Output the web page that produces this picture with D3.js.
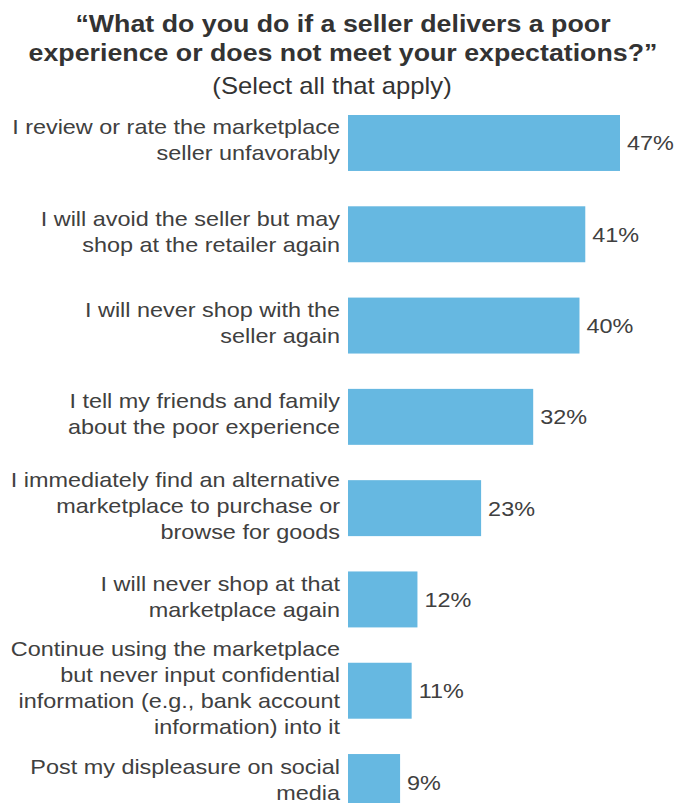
<!DOCTYPE html>
<html>
<head>
<meta charset="utf-8">
<script src="https://cdn.jsdelivr.net/npm/d3@7"></script>
<style>
  body { margin: 0; background: #fff; }
  svg text { font-family: "Liberation Sans", Arial, sans-serif; }
</style>
</head>
<body>
<svg id="chart" width="686" height="803"></svg>
<script>
// answers, each split into the lines shown on the chart
var categories = [
  ["I review or rate the marketplace", "seller unfavorably"],
  ["I will avoid the seller but may", "shop at the retailer again"],
  ["I will never shop with the", "seller again"],
  ["I tell my friends and family", "about the poor experience"],
  ["I immediately find an alternative", "marketplace to purchase or", "browse for goods"],
  ["I will never shop at that", "marketplace again"],
  ["Continue using the marketplace", "but never input confidential", "information (e.g., bank account", "information) into it"],
  ["Post my displeasure on social", "media"]
];
var values = [47, 41, 40, 32, 23, 12, 11, 9];
var titleLines = ["\u201cWhat do you do if a seller delivers a poor", "experience or does not meet your expectations?\u201d"];
var subtitle = "(Select all that apply)";

var svg = d3.select("#chart");
var ids = d3.range(values.length);
var sx = 1.115; // the original text is a bit wide

var x = d3.scaleLinear().domain([0, 47]).range([348, 620]);
var y = d3.scaleBand().domain(ids).range([115, 810]).paddingInner(0.387).paddingOuter(0);

// helper: text stretched sideways from its anchor point
function wideText(sel, px, py) {
  return sel.append("text")
    .attr("transform", "translate(" + px + "," + py + ") scale(" + sx + ",1)");
}

// title
titleLines.forEach(function(t, i) {
  wideText(svg, 343, 32 + i * 29)
    .attr("text-anchor", "middle")
    .style("font-size", "24px")
    .style("font-weight", "bold")
    .style("fill", "#333333")
    .text(t);
});

wideText(svg, 332, 94)
  .attr("text-anchor", "middle")
  .style("font-size", "23px")
  .style("fill", "#333333")
  .text(subtitle);

// bars
svg.selectAll(".bar").data(ids).enter().append("rect")
  .attr("class", "bar")
  .attr("x", x(0))
  .attr("y", function(i) { return y(i); })
  .attr("width", function(i) { return x(values[i]) - x(0); })
  .attr("height", y.bandwidth())
  .style("fill", "#66b8e1");

// value labels
ids.forEach(function(i) {
  wideText(svg, x(values[i]) + 7, y(i) + y.bandwidth() / 2 + 7.5)
    .style("font-size", "21px")
    .style("fill", "#404040")
    .text(values[i] + "%");
});

// category labels, right aligned
var lineH = 26;
ids.forEach(function(i) {
  var lines = categories[i];
  var mid = y(i) + y.bandwidth() / 2;
  var top = mid - (lines.length - 1) * lineH / 2 + 4.5;
  lines.forEach(function(t, k) {
    wideText(svg, 340, top + k * lineH)
      .attr("text-anchor", "end")
      .style("font-size", "21px")
      .style("fill", "#404040")
      .text(t);
  });
});
</script>
</body>
</html>
